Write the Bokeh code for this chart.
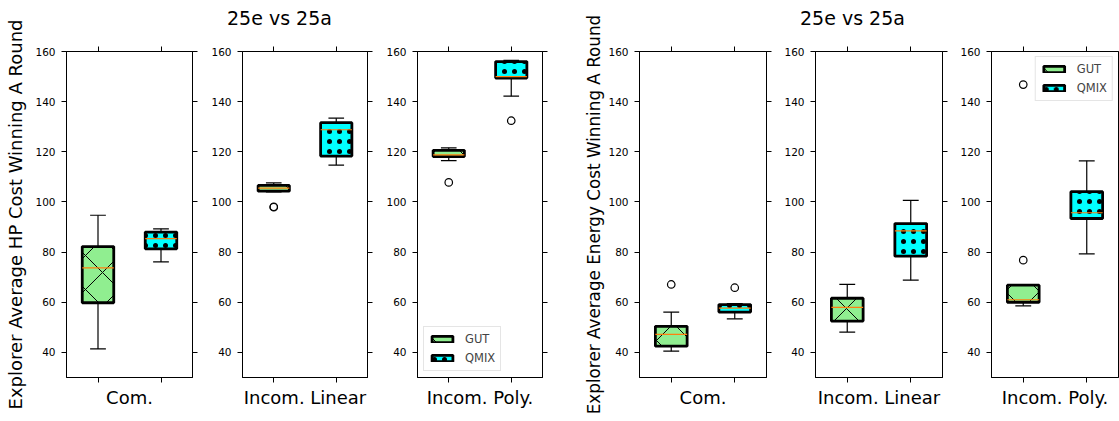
from bokeh.plotting import figure
from bokeh.layouts import row, column
from bokeh.models import (LinearAxis, FixedTicker, Range1d, Legend, LegendItem,
                          Div, ColumnDataSource)
from bokeh.embed import file_html
from bokeh.resources import INLINE

categories = ["Com.", "Incom. Linear", "Incom. Poly."]
series = ["GUT", "QMIX"]
y_ticks = [40, 60, 80, 100, 120, 140, 160]
titles = ["25e vs 25a", "25e vs 25a"]
y_labels = ["Explorer Average HP Cost Winning A Round",
            "Explorer Average Energy Cost Winning A Round"]

# HP cost (box-plot statistics per category)
hp_gut_lo = [41.4, 104.0, 116.5]
hp_gut_q1 = [59.8, 104.3, 118.1]
hp_gut_med = [73.7, 105.5, 118.8]
hp_gut_q3 = [82.2, 106.6, 120.6]
hp_gut_hi = [94.7, 107.6, 121.6]
hp_gut_out = [[], [98.1, 97.9], [107.8]]

hp_qmix_lo = [76.1, 114.7, 142.2]
hp_qmix_q1 = [81.3, 118.3, 149.4]
hp_qmix_med = [85.4, 128.8, 150.0]
hp_qmix_q3 = [88.0, 131.6, 156.0]
hp_qmix_hi = [89.3, 133.4, 156.5]
hp_qmix_out = [[], [], [132.4]]

# Energy cost
en_gut_lo = [40.5, 48.1, 58.6]
en_gut_q1 = [42.5, 52.5, 60.0]
en_gut_med = [47.2, 58.0, 61.0]
en_gut_q3 = [50.4, 61.6, 66.8]
en_gut_hi = [56.1, 67.1, 66.8]
en_gut_out = [[67.1], [], [76.8, 146.8]]

en_qmix_lo = [53.4, 68.8, 79.3]
en_qmix_q1 = [56.1, 78.4, 93.4]
en_qmix_med = [57.7, 88.5, 95.7]
en_qmix_q3 = [59.1, 91.4, 104.1]
en_qmix_hi = [59.5, 100.6, 116.4]
en_qmix_out = [[65.8], [], []]

FONT = "DejaVu Sans"
GUT_COLOR = "#90EE90"
QMIX_COLOR = "#00FFFF"
MEDIAN_COLOR = "#FF7F0E"

groups = [
    dict(gut=(hp_gut_lo, hp_gut_q1, hp_gut_med, hp_gut_q3, hp_gut_hi, hp_gut_out),
         qmix=(hp_qmix_lo, hp_qmix_q1, hp_qmix_med, hp_qmix_q3, hp_qmix_hi, hp_qmix_out),
         ylabel=y_labels[0], ylabel_size="18px", ylabel_standoff=6,
         legend="bottom_left", legend_margin=6, title=titles[0], title_indent=23),
    dict(gut=(en_gut_lo, en_gut_q1, en_gut_med, en_gut_q3, en_gut_hi, en_gut_out),
         qmix=(en_qmix_lo, en_qmix_q1, en_qmix_med, en_qmix_q3, en_qmix_hi, en_qmix_out),
         ylabel=y_labels[1], ylabel_size="16.8px", ylabel_standoff=1,
         legend="top_right", legend_margin=5, title=titles[1], title_indent=22),
]

# (left border, frame width, right border) per panel
layout_spec = [(66, 126, 12), (38, 125, 12), (38, 125, 12),
               (85, 127, 12), (37, 127, 12), (37, 127, 1)]

TITLE_H = 36
FRAME_H = 326
TOP_B = 51
BOT_B = 44


def style_axis(ax, ticks, labels=True):
    ax.ticker = FixedTicker(ticks=ticks)
    ax.major_tick_in = 0
    ax.major_tick_out = 5
    ax.minor_tick_in = 0
    ax.minor_tick_out = 0
    ax.major_tick_line_color = "black"
    ax.axis_line_color = "black"
    ax.major_label_text_font = FONT
    if labels:
        ax.major_label_text_color = "black"
        ax.major_label_text_font_size = "10.5px"
        ax.major_label_standoff = 6
    else:
        ax.major_label_text_color = None
        ax.major_label_text_font_size = "0px"
        ax.major_label_standoff = 0
    return ax


def draw_box(p, x, lo, q1, med, q3, hi, out, color, hatch, hscale):
    src = ColumnDataSource(dict(x=[x], lo=[lo], q1=[q1], med=[med], q3=[q3], hi=[hi],
                                l=[x - 0.25], r=[x + 0.25],
                                cl=[x - 0.125], cr=[x + 0.125]))
    box = p.quad(left="l", right="r", bottom="q1", top="q3", source=src,
                 fill_color=color, line_color="black", line_width=2.8,
                 hatch_pattern=hatch, hatch_scale=hscale, hatch_weight=1.0,
                 hatch_color="black")
    p.segment(x0="x", y0="q3", x1="x", y1="hi", source=src, line_color="black", line_width=1.2)
    p.segment(x0="x", y0="q1", x1="x", y1="lo", source=src, line_color="black", line_width=1.2)
    p.segment(x0="cl", y0="hi", x1="cr", y1="hi", source=src, line_color="black", line_width=1.2)
    p.segment(x0="cl", y0="lo", x1="cr", y1="lo", source=src, line_color="black", line_width=1.2)
    p.segment(x0="l", y0="med", x1="r", y1="med", source=src, line_color=MEDIAN_COLOR, line_width=1.2)
    if out:
        p.scatter(x=[x] * len(out), y=out, marker="circle", size=7.5,
                  fill_color=None, line_color="black", line_width=1.2)
    return box


blocks = []
for gi, g in enumerate(groups):
    group_figs = []
    for ci, cat in enumerate(categories):
        lb, fw, rb = layout_spec[gi * 3 + ci]
        top_b = TOP_B if ci == 0 else TOP_B - TITLE_H
        p = figure(width=lb + fw + rb, height=top_b + FRAME_H + BOT_B,
                   x_range=Range1d(0.5, 2.5), y_range=Range1d(30, 160),
                   output_backend="svg", toolbar_location=None,
                   min_border_left=lb, min_border_right=rb,
                   min_border_top=top_b, min_border_bottom=BOT_B)
        p.xgrid.visible = False
        p.ygrid.visible = False
        p.outline_line_color = "black"
        p.outline_line_width = 1
        p.background_fill_color = "white"
        p.border_fill_color = "white"

        yax = style_axis(p.left[0], y_ticks, labels=True)
        xax = style_axis(p.below[0], [1, 2], labels=False)
        if ci == 0:
            yax.axis_label = g["ylabel"]
            yax.axis_label_text_font = FONT
            yax.axis_label_text_font_size = g["ylabel_size"]
            yax.axis_label_text_font_style = "normal"
            yax.axis_label_text_color = "black"
            yax.axis_label_standoff = g["ylabel_standoff"]
        xax.axis_label = cat
        xax.axis_label_text_font = FONT
        xax.axis_label_text_font_size = "18px"
        xax.axis_label_text_font_style = "normal"
        xax.axis_label_text_color = "black"
        xax.axis_label_standoff = 4

        if not (gi == 1 and ci == 2):
            rax = LinearAxis()
            p.add_layout(rax, "right")
            style_axis(rax, y_ticks, labels=False)
        tax = LinearAxis()
        p.add_layout(tax, "above")
        style_axis(tax, [1, 2], labels=False)

        gs = [v[ci] for v in g["gut"]]
        qs = [v[ci] for v in g["qmix"]]
        gbox = draw_box(p, 1, *gs, GUT_COLOR, "x", 34)
        qbox = draw_box(p, 2, *qs, QMIX_COLOR, ".", 10)

        if ci == 2:
            leg = Legend(items=[LegendItem(label=series[0], renderers=[gbox]),
                                LegendItem(label=series[1], renderers=[qbox])],
                         location=g["legend"])
            leg.label_text_font = FONT
            leg.label_text_font_size = "11.5px"
            leg.glyph_width = 26
            leg.glyph_height = 8
            leg.spacing = 5
            leg.padding = 5
            leg.margin = g["legend_margin"]
            leg.label_standoff = 10
            leg.border_line_color = "#cccccc"
            leg.border_line_width = 1
            leg.background_fill_alpha = 0.8
            p.add_layout(leg, "center")
        group_figs.append(p)

    right_w = group_figs[1].width + group_figs[2].width
    title_div = Div(text=g["title"], width=right_w, height=TITLE_H,
                    styles={"font-family": FONT, "font-size": "19px",
                            "line-height": f"{TITLE_H}px", "color": "black",
                            "text-align": "left", "text-indent": f"{g['title_indent']}px",
                            "white-space": "nowrap", "margin": "0",
                            "padding": "0", "overflow": "visible"})
    blocks.append(group_figs[0])
    blocks.append(column(title_div, row(group_figs[1], group_figs[2], spacing=0), spacing=0))

layout = row(*blocks, spacing=0)
open("out.html", "w").write(file_html(layout, INLINE))
